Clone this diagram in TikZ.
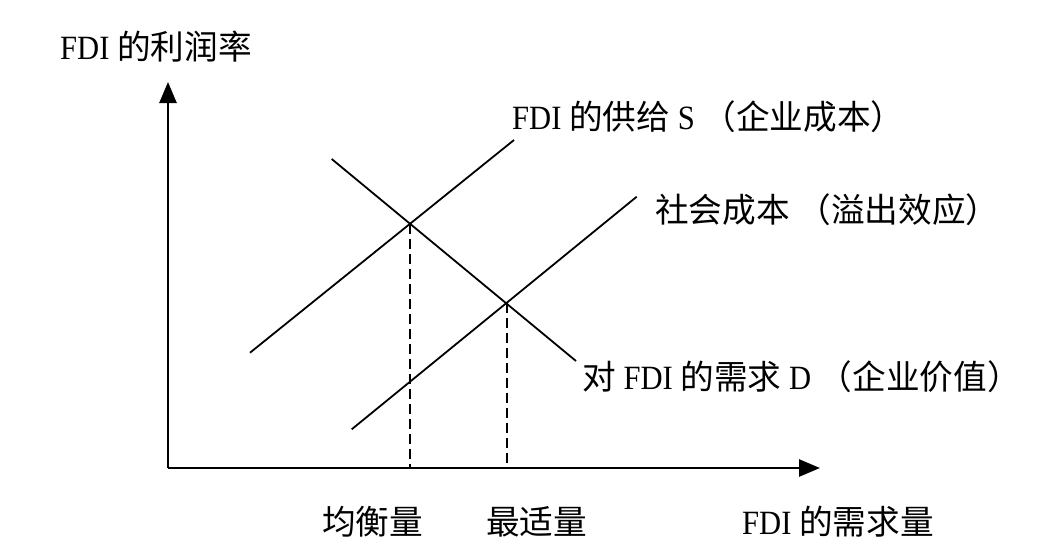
\documentclass[tikz,border=0pt]{standalone}
\usepackage{fontspec}
\setmainfont{Liberation Serif}[FakeStretch=0.9]
\newfontfamily\cjk{Noto Sans CJK SC}[Scale=0.99]
\usetikzlibrary{arrows.meta}
\tikzset{
  axis/.style={line width=2.6pt,-{Triangle[length=21pt,width=17pt]}},
  curve/.style={line width=1.8pt},
  guide/.style={line width=1.8pt,dash pattern=on 10pt off 5pt},
  lbl/.style={anchor=west,inner sep=0pt,font=\fontsize{34}{36}\selectfont}
}
\begin{document}
\begin{tikzpicture}[x=1pt,y=-1pt]
\useasboundingbox (0,0) rectangle (1054,547);
% axes
\coordinate (O) at (168,468);
\coordinate (Ytip) at (168,82);
\coordinate (Xtip) at (820,468);
\draw[axis] (O) -- (Ytip);
\draw[axis] (O) -- (Xtip);
% curves
\coordinate (S1) at (250,352.7);
\coordinate (S2) at (514,140);
\coordinate (D1) at (331.7,159);
\coordinate (D2) at (576,361);
\coordinate (C1) at (351.7,429.3);
\coordinate (C2) at (636.7,196.7);
\coordinate (E1) at (410,223.8);
\coordinate (E2) at (506.9,302.9);
\draw[curve] (S1) -- (S2);
\draw[curve] (D1) -- (D2);
\draw[curve] (C1) -- (C2);
\draw[guide] (E1) -- (E1 |- O);
\draw[guide] (E2) -- (E2 |- O);
% labels
\node[lbl] (ylab) at (60,47) {FDI {\cjk 的利润率}};
\node[lbl] (slab) at (512,117) {FDI {\cjk 的供给} S {\cjk （企业成本）}};
\node[lbl] (clab) at (655,210) {{\cjk 社会成本 （溢出效应）}};
\node[lbl] (dlab) at (582,377) {{\cjk 对} FDI {\cjk 的需求} D {\cjk （企业价值）}};
\node[lbl] (q1) at (322,522) {{\cjk 均衡量}};
\node[lbl] (q2) at (486,522) {{\cjk 最适量}};
\node[lbl] (xlab) at (742,522) {FDI {\cjk 的需求量}};
\end{tikzpicture}
\end{document}
